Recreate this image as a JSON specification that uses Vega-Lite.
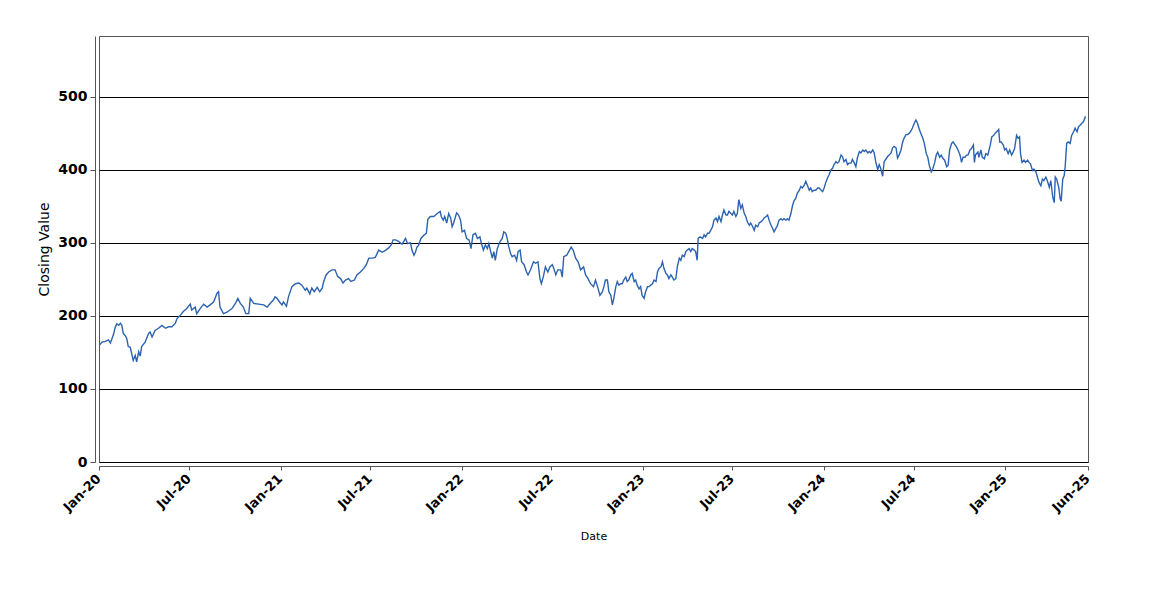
{
 "$schema": "https://vega.github.io/schema/vega-lite/v6.json",
 "width": 989,
 "height": 426,
 "autosize": {"type": "none"},
 "padding": {"left": 99, "top": 36, "right": 62, "bottom": 138},
 "background": "white",
 "config": {"view": {"stroke": "#555", "strokeWidth": 1}},
 "data": {"values": [
{"date":"2020-01-02","close":160},{"date":"2020-01-07","close":164},{"date":"2020-01-14","close":165},{"date":"2020-01-20","close":167},{"date":"2020-01-24","close":163},{"date":"2020-01-30","close":174},{"date":"2020-02-03","close":185},{"date":"2020-02-06","close":189},{"date":"2020-02-10","close":187},{"date":"2020-02-13","close":190},{"date":"2020-02-16","close":187},{"date":"2020-02-19","close":176},{"date":"2020-02-23","close":173},{"date":"2020-02-26","close":169},{"date":"2020-02-29","close":158},{"date":"2020-03-04","close":157},{"date":"2020-03-07","close":148},{"date":"2020-03-10","close":139},{"date":"2020-03-14","close":146},{"date":"2020-03-17","close":137},{"date":"2020-03-21","close":151},{"date":"2020-03-24","close":145},{"date":"2020-03-27","close":158},{"date":"2020-04-03","close":164},{"date":"2020-04-10","close":176},{"date":"2020-04-13","close":178},{"date":"2020-04-17","close":171},{"date":"2020-04-23","close":180},{"date":"2020-04-30","close":183},{"date":"2020-05-07","close":187},{"date":"2020-05-14","close":183},{"date":"2020-05-20","close":185},{"date":"2020-05-27","close":185},{"date":"2020-06-03","close":190},{"date":"2020-06-06","close":196},{"date":"2020-06-13","close":201},{"date":"2020-06-19","close":206},{"date":"2020-06-26","close":210},{"date":"2020-07-03","close":216},{"date":"2020-07-06","close":208},{"date":"2020-07-13","close":212},{"date":"2020-07-16","close":203},{"date":"2020-07-23","close":210},{"date":"2020-07-30","close":216},{"date":"2020-08-06","close":212},{"date":"2020-08-12","close":215},{"date":"2020-08-19","close":219},{"date":"2020-08-26","close":231},{"date":"2020-08-29","close":233},{"date":"2020-09-01","close":212},{"date":"2020-09-08","close":203},{"date":"2020-09-15","close":205},{"date":"2020-09-25","close":210},{"date":"2020-10-02","close":217},{"date":"2020-10-07","close":224},{"date":"2020-10-12","close":217},{"date":"2020-10-18","close":212},{"date":"2020-10-23","close":203},{"date":"2020-10-29","close":203},{"date":"2020-11-01","close":224},{"date":"2020-11-08","close":217},{"date":"2020-11-18","close":216},{"date":"2020-11-28","close":215},{"date":"2020-12-05","close":212},{"date":"2020-12-11","close":217},{"date":"2020-12-18","close":222},{"date":"2020-12-21","close":226},{"date":"2020-12-25","close":224},{"date":"2020-12-30","close":219},
{"date":"2021-01-04","close":215},{"date":"2021-01-07","close":219},{"date":"2021-01-13","close":213},{"date":"2021-01-17","close":226},{"date":"2021-01-24","close":240},{"date":"2021-01-31","close":244},{"date":"2021-02-07","close":245},{"date":"2021-02-13","close":242},{"date":"2021-02-20","close":235},{"date":"2021-02-23","close":238},{"date":"2021-03-01","close":230},{"date":"2021-03-05","close":238},{"date":"2021-03-10","close":233},{"date":"2021-03-16","close":239},{"date":"2021-03-21","close":233},{"date":"2021-03-26","close":238},{"date":"2021-03-29","close":247},{"date":"2021-04-03","close":256},{"date":"2021-04-08","close":260},{"date":"2021-04-15","close":263},{"date":"2021-04-21","close":263},{"date":"2021-04-26","close":254},{"date":"2021-05-02","close":251},{"date":"2021-05-07","close":245},{"date":"2021-05-12","close":249},{"date":"2021-05-18","close":251},{"date":"2021-05-23","close":247},{"date":"2021-05-30","close":249},{"date":"2021-06-04","close":256},{"date":"2021-06-11","close":260},{"date":"2021-06-18","close":265},{"date":"2021-06-23","close":270},{"date":"2021-06-28","close":279},{"date":"2021-07-05","close":279},{"date":"2021-07-11","close":280},{"date":"2021-07-18","close":290},{"date":"2021-07-25","close":287},{"date":"2021-08-01","close":290},{"date":"2021-08-07","close":293},{"date":"2021-08-12","close":297},{"date":"2021-08-16","close":304},{"date":"2021-08-21","close":304},{"date":"2021-08-27","close":302},{"date":"2021-09-03","close":298},{"date":"2021-09-10","close":306},{"date":"2021-09-14","close":299},{"date":"2021-09-20","close":300},{"date":"2021-09-23","close":290},{"date":"2021-09-27","close":283},{"date":"2021-09-30","close":287},{"date":"2021-10-03","close":294},{"date":"2021-10-06","close":296},{"date":"2021-10-11","close":306},{"date":"2021-10-18","close":311},{"date":"2021-10-22","close":313},{"date":"2021-10-25","close":332},{"date":"2021-10-30","close":336},{"date":"2021-11-06","close":336},{"date":"2021-11-13","close":340},{"date":"2021-11-19","close":343},{"date":"2021-11-21","close":336},{"date":"2021-11-25","close":331},{"date":"2021-11-28","close":336},{"date":"2021-12-02","close":327},{"date":"2021-12-06","close":340},{"date":"2021-12-10","close":334},{"date":"2021-12-13","close":322},{"date":"2021-12-16","close":327},{"date":"2021-12-22","close":341},{"date":"2021-12-26","close":338},{"date":"2021-12-30","close":331},
{"date":"2022-01-02","close":315},{"date":"2022-01-07","close":317},{"date":"2022-01-11","close":306},{"date":"2022-01-16","close":304},{"date":"2022-01-20","close":292},{"date":"2022-01-24","close":311},{"date":"2022-01-29","close":313},{"date":"2022-02-02","close":306},{"date":"2022-02-07","close":308},{"date":"2022-02-10","close":299},{"date":"2022-02-14","close":290},{"date":"2022-02-18","close":297},{"date":"2022-02-22","close":292},{"date":"2022-02-25","close":299},{"date":"2022-02-28","close":290},{"date":"2022-03-04","close":279},{"date":"2022-03-07","close":288},{"date":"2022-03-10","close":276},{"date":"2022-03-14","close":292},{"date":"2022-03-19","close":301},{"date":"2022-03-24","close":306},{"date":"2022-03-27","close":315},{"date":"2022-03-31","close":313},{"date":"2022-04-03","close":306},{"date":"2022-04-06","close":295},{"date":"2022-04-10","close":285},{"date":"2022-04-13","close":281},{"date":"2022-04-18","close":283},{"date":"2022-04-22","close":276},{"date":"2022-04-25","close":288},{"date":"2022-04-29","close":290},{"date":"2022-05-02","close":274},{"date":"2022-05-07","close":270},{"date":"2022-05-12","close":260},{"date":"2022-05-15","close":256},{"date":"2022-05-20","close":263},{"date":"2022-05-26","close":274},{"date":"2022-05-30","close":272},{"date":"2022-06-04","close":274},{"date":"2022-06-08","close":251},{"date":"2022-06-11","close":244},{"date":"2022-06-15","close":254},{"date":"2022-06-19","close":267},{"date":"2022-06-24","close":260},{"date":"2022-06-28","close":267},{"date":"2022-07-03","close":270},{"date":"2022-07-06","close":265},{"date":"2022-07-10","close":256},{"date":"2022-07-14","close":263},{"date":"2022-07-20","close":263},{"date":"2022-07-23","close":253},{"date":"2022-07-26","close":281},{"date":"2022-08-01","close":283},{"date":"2022-08-05","close":288},{"date":"2022-08-10","close":294},{"date":"2022-08-14","close":290},{"date":"2022-08-19","close":279},{"date":"2022-08-24","close":274},{"date":"2022-08-29","close":263},{"date":"2022-09-04","close":267},{"date":"2022-09-08","close":256},{"date":"2022-09-13","close":251},{"date":"2022-09-18","close":244},{"date":"2022-09-24","close":240},{"date":"2022-09-28","close":249},{"date":"2022-10-03","close":238},{"date":"2022-10-07","close":228},{"date":"2022-10-12","close":233},{"date":"2022-10-15","close":240},{"date":"2022-10-18","close":249},{"date":"2022-10-22","close":249},{"date":"2022-10-25","close":233},{"date":"2022-10-29","close":228},{"date":"2022-11-01","close":215},{"date":"2022-11-04","close":224},{"date":"2022-11-08","close":240},{"date":"2022-11-11","close":247},{"date":"2022-11-14","close":242},{"date":"2022-11-18","close":244},{"date":"2022-11-21","close":244},{"date":"2022-11-24","close":249},{"date":"2022-11-28","close":253},{"date":"2022-12-01","close":247},{"date":"2022-12-04","close":249},{"date":"2022-12-08","close":256},{"date":"2022-12-11","close":258},{"date":"2022-12-15","close":247},{"date":"2022-12-18","close":249},{"date":"2022-12-21","close":242},{"date":"2022-12-25","close":237},{"date":"2022-12-28","close":240},{"date":"2022-12-31","close":228},
{"date":"2023-01-04","close":224},{"date":"2023-01-07","close":233},{"date":"2023-01-11","close":240},{"date":"2023-01-14","close":240},{"date":"2023-01-17","close":242},{"date":"2023-01-21","close":244},{"date":"2023-01-24","close":249},{"date":"2023-01-28","close":247},{"date":"2023-01-31","close":260},{"date":"2023-02-03","close":265},{"date":"2023-02-07","close":267},{"date":"2023-02-10","close":274},{"date":"2023-02-13","close":265},{"date":"2023-02-17","close":258},{"date":"2023-02-20","close":256},{"date":"2023-02-23","close":251},{"date":"2023-02-27","close":256},{"date":"2023-03-02","close":253},{"date":"2023-03-05","close":249},{"date":"2023-03-09","close":251},{"date":"2023-03-12","close":267},{"date":"2023-03-16","close":279},{"date":"2023-03-19","close":276},{"date":"2023-03-22","close":283},{"date":"2023-03-26","close":281},{"date":"2023-03-29","close":288},{"date":"2023-04-01","close":290},{"date":"2023-04-05","close":292},{"date":"2023-04-08","close":288},{"date":"2023-04-11","close":292},{"date":"2023-04-15","close":290},{"date":"2023-04-18","close":288},{"date":"2023-04-21","close":276},{"date":"2023-04-23","close":306},{"date":"2023-04-27","close":308},{"date":"2023-05-02","close":306},{"date":"2023-05-05","close":311},{"date":"2023-05-08","close":308},{"date":"2023-05-12","close":313},{"date":"2023-05-15","close":313},{"date":"2023-05-19","close":318},{"date":"2023-05-22","close":322},{"date":"2023-05-25","close":331},{"date":"2023-05-29","close":334},{"date":"2023-06-01","close":329},{"date":"2023-06-04","close":336},{"date":"2023-06-08","close":329},{"date":"2023-06-11","close":338},{"date":"2023-06-14","close":345},{"date":"2023-06-18","close":338},{"date":"2023-06-21","close":338},{"date":"2023-06-24","close":343},{"date":"2023-06-28","close":340},{"date":"2023-07-01","close":338},{"date":"2023-07-04","close":343},{"date":"2023-07-08","close":336},{"date":"2023-07-11","close":340},{"date":"2023-07-14","close":359},{"date":"2023-07-18","close":347},{"date":"2023-07-21","close":352},{"date":"2023-07-25","close":340},{"date":"2023-07-28","close":336},{"date":"2023-07-31","close":329},{"date":"2023-08-04","close":324},{"date":"2023-08-07","close":327},{"date":"2023-08-11","close":322},{"date":"2023-08-14","close":317},{"date":"2023-08-17","close":324},{"date":"2023-08-21","close":322},{"date":"2023-08-24","close":327},{"date":"2023-08-28","close":329},{"date":"2023-08-31","close":331},{"date":"2023-09-03","close":334},{"date":"2023-09-07","close":336},{"date":"2023-09-10","close":338},{"date":"2023-09-13","close":331},{"date":"2023-09-17","close":324},{"date":"2023-09-20","close":320},{"date":"2023-09-23","close":315},{"date":"2023-09-27","close":320},{"date":"2023-09-30","close":324},{"date":"2023-10-03","close":331},{"date":"2023-10-07","close":333},{"date":"2023-10-10","close":331},{"date":"2023-10-13","close":333},{"date":"2023-10-17","close":331},{"date":"2023-10-20","close":333},{"date":"2023-10-23","close":331},{"date":"2023-10-27","close":340},{"date":"2023-10-30","close":350},{"date":"2023-11-02","close":357},{"date":"2023-11-06","close":361},{"date":"2023-11-09","close":368},{"date":"2023-11-13","close":372},{"date":"2023-11-16","close":377},{"date":"2023-11-19","close":375},{"date":"2023-11-23","close":379},{"date":"2023-11-26","close":384},{"date":"2023-11-29","close":379},{"date":"2023-12-03","close":372},{"date":"2023-12-06","close":375},{"date":"2023-12-09","close":370},{"date":"2023-12-13","close":372},{"date":"2023-12-16","close":372},{"date":"2023-12-20","close":375},{"date":"2023-12-23","close":375},{"date":"2023-12-27","close":372},{"date":"2023-12-30","close":370},
{"date":"2024-01-02","close":375},{"date":"2024-01-05","close":382},{"date":"2024-01-09","close":389},{"date":"2024-01-12","close":393},{"date":"2024-01-16","close":400},{"date":"2024-01-19","close":402},{"date":"2024-01-22","close":407},{"date":"2024-01-26","close":411},{"date":"2024-01-29","close":409},{"date":"2024-02-01","close":411},{"date":"2024-02-05","close":420},{"date":"2024-02-08","close":418},{"date":"2024-02-11","close":411},{"date":"2024-02-15","close":414},{"date":"2024-02-18","close":407},{"date":"2024-02-21","close":409},{"date":"2024-02-25","close":409},{"date":"2024-02-28","close":414},{"date":"2024-03-03","close":409},{"date":"2024-03-06","close":404},{"date":"2024-03-09","close":416},{"date":"2024-03-13","close":425},{"date":"2024-03-16","close":423},{"date":"2024-03-20","close":427},{"date":"2024-03-23","close":425},{"date":"2024-03-26","close":427},{"date":"2024-03-30","close":423},{"date":"2024-04-02","close":425},{"date":"2024-04-05","close":423},{"date":"2024-04-09","close":427},{"date":"2024-04-12","close":423},{"date":"2024-04-15","close":411},{"date":"2024-04-19","close":400},{"date":"2024-04-22","close":407},{"date":"2024-04-25","close":402},{"date":"2024-04-29","close":391},{"date":"2024-05-02","close":411},{"date":"2024-05-05","close":414},{"date":"2024-05-09","close":418},{"date":"2024-05-12","close":420},{"date":"2024-05-16","close":423},{"date":"2024-05-19","close":430},{"date":"2024-05-22","close":432},{"date":"2024-05-26","close":430},{"date":"2024-05-29","close":416},{"date":"2024-06-01","close":420},{"date":"2024-06-05","close":427},{"date":"2024-06-08","close":437},{"date":"2024-06-11","close":443},{"date":"2024-06-15","close":448},{"date":"2024-06-18","close":448},{"date":"2024-06-22","close":450},{"date":"2024-06-25","close":453},{"date":"2024-06-28","close":457},{"date":"2024-07-02","close":464},{"date":"2024-07-05","close":468},{"date":"2024-07-08","close":464},{"date":"2024-07-12","close":455},{"date":"2024-07-16","close":448},{"date":"2024-07-19","close":443},{"date":"2024-07-22","close":436},{"date":"2024-07-26","close":422},{"date":"2024-07-29","close":417},{"date":"2024-08-01","close":406},{"date":"2024-08-05","close":397},{"date":"2024-08-08","close":401},{"date":"2024-08-12","close":410},{"date":"2024-08-15","close":420},{"date":"2024-08-18","close":424},{"date":"2024-08-22","close":417},{"date":"2024-08-25","close":420},{"date":"2024-08-29","close":415},{"date":"2024-09-01","close":413},{"date":"2024-09-05","close":404},{"date":"2024-09-08","close":406},{"date":"2024-09-11","close":427},{"date":"2024-09-15","close":436},{"date":"2024-09-18","close":438},{"date":"2024-09-22","close":434},{"date":"2024-09-25","close":431},{"date":"2024-09-28","close":427},{"date":"2024-10-02","close":420},{"date":"2024-10-05","close":410},{"date":"2024-10-08","close":417},{"date":"2024-10-12","close":417},{"date":"2024-10-15","close":420},{"date":"2024-10-18","close":420},{"date":"2024-10-22","close":427},{"date":"2024-10-25","close":429},{"date":"2024-10-29","close":434},{"date":"2024-10-31","close":410},{"date":"2024-11-02","close":420},{"date":"2024-11-07","close":424},{"date":"2024-11-09","close":417},{"date":"2024-11-13","close":427},{"date":"2024-11-16","close":417},{"date":"2024-11-20","close":415},{"date":"2024-11-23","close":422},{"date":"2024-11-27","close":420},{"date":"2024-12-02","close":434},{"date":"2024-12-05","close":445},{"date":"2024-12-09","close":447},{"date":"2024-12-12","close":450},{"date":"2024-12-15","close":452},{"date":"2024-12-19","close":455},{"date":"2024-12-21","close":438},{"date":"2024-12-24","close":438},{"date":"2024-12-28","close":434},{"date":"2024-12-31","close":427},
{"date":"2025-01-03","close":429},{"date":"2025-01-07","close":422},{"date":"2025-01-10","close":427},{"date":"2025-01-14","close":420},{"date":"2025-01-17","close":424},{"date":"2025-01-20","close":429},{"date":"2025-01-24","close":447},{"date":"2025-01-27","close":443},{"date":"2025-01-30","close":445},{"date":"2025-02-01","close":422},{"date":"2025-02-04","close":410},{"date":"2025-02-08","close":413},{"date":"2025-02-11","close":410},{"date":"2025-02-15","close":413},{"date":"2025-02-18","close":410},{"date":"2025-02-21","close":408},{"date":"2025-02-25","close":399},{"date":"2025-02-28","close":401},{"date":"2025-03-04","close":397},{"date":"2025-03-07","close":390},{"date":"2025-03-10","close":383},{"date":"2025-03-14","close":378},{"date":"2025-03-17","close":387},{"date":"2025-03-20","close":385},{"date":"2025-03-24","close":390},{"date":"2025-03-27","close":385},{"date":"2025-03-31","close":376},{"date":"2025-04-03","close":385},{"date":"2025-04-07","close":362},{"date":"2025-04-10","close":355},{"date":"2025-04-12","close":390},{"date":"2025-04-15","close":387},{"date":"2025-04-19","close":376},{"date":"2025-04-22","close":360},{"date":"2025-04-24","close":357},{"date":"2025-04-27","close":387},{"date":"2025-04-30","close":392},{"date":"2025-05-02","close":404},{"date":"2025-05-05","close":436},{"date":"2025-05-08","close":438},{"date":"2025-05-12","close":436},{"date":"2025-05-15","close":447},{"date":"2025-05-19","close":452},{"date":"2025-05-22","close":457},{"date":"2025-05-26","close":452},{"date":"2025-05-29","close":459},{"date":"2025-06-01","close":461},{"date":"2025-06-05","close":464},{"date":"2025-06-08","close":466},{"date":"2025-06-12","close":473}
 ]},
 "mark": {"type": "line", "color": "#2b63b1", "strokeWidth": 1.4},
 "encoding": {
  "x": {
   "field": "date", "type": "temporal",
   "scale": {"type": "utc", "domain": [{"year": 2020, "month": 1, "date": 1, "utc": true}, {"year": 2025, "month": 6, "date": 17, "utc": true}]},
   "axis": {
    "title": "Date",
    "values": [
     {"year": 2020, "month": 1, "date": 1, "utc": true},
     {"year": 2020, "month": 7, "date": 1, "utc": true},
     {"year": 2021, "month": 1, "date": 1, "utc": true},
     {"year": 2021, "month": 7, "date": 1, "utc": true},
     {"year": 2022, "month": 1, "date": 1, "utc": true},
     {"year": 2022, "month": 7, "date": 1, "utc": true},
     {"year": 2023, "month": 1, "date": 1, "utc": true},
     {"year": 2023, "month": 7, "date": 1, "utc": true},
     {"year": 2024, "month": 1, "date": 1, "utc": true},
     {"year": 2024, "month": 7, "date": 1, "utc": true},
     {"year": 2025, "month": 1, "date": 1, "utc": true},
     {"year": 2025, "month": 6, "date": 17, "utc": true}
    ],
    "format": "%b-%y",
    "labelAngle": -45,
    "labelAlign": "right",
    "labelBaseline": "top",
    "labelFlush": false,
    "labelOverlap": false,
    "labelOffset": -5,
    "labelFont": "DejaVu Sans",
    "labelFontWeight": "bold",
    "labelFontSize": 13,
    "labelColor": "#000",
    "labelPadding": 2,
    "offset": 4,
    "grid": false,
    "domainColor": "#555",
    "tickColor": "#555",
    "tickSize": 4,
    "titleFont": "DejaVu Sans",
    "titleFontSize": 11,
    "titleFontWeight": "normal",
    "titleColor": "#000",
    "titlePadding": 16
   }
  },
  "y": {
   "field": "close", "type": "quantitative",
   "scale": {"domain": [0, 583], "nice": false},
   "axis": {
    "title": "Closing Value",
    "values": [0, 100, 200, 300, 400, 500],
    "grid": true,
    "gridColor": "#000",
    "gridWidth": 1,
    "gridOpacity": 1,
    "offset": 4,
    "domainColor": "#555",
    "tickColor": "#555",
    "tickSize": 5,
    "labelFont": "DejaVu Sans",
    "labelFontWeight": "bold",
    "labelFontSize": 14,
    "labelColor": "#000",
    "labelPadding": 3,
    "titleFont": "DejaVu Sans",
    "titleFontSize": 14,
    "titleFontWeight": "normal",
    "titleColor": "#000",
    "titlePadding": 6
   }
  }
 }
}
